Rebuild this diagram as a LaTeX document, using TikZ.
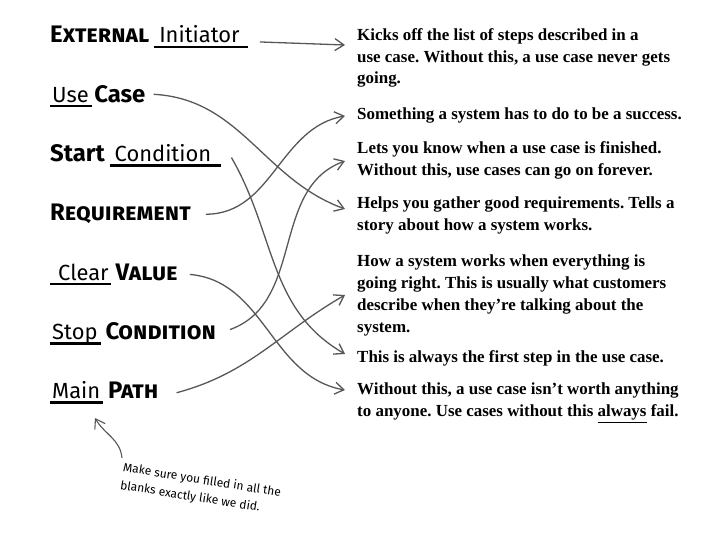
\documentclass[tikz,border=0pt]{standalone}
\usepackage{fontspec}
\setmainfont{Liberation Serif}
\newfontfamily\markfont{Fira Sans}
\newfontfamily\handfont{Fira Sans}
\usepackage{tikz}
\usetikzlibrary{positioning,arrows.meta}
\definecolor{pen}{HTML}{575757}
\frenchspacing

% a word written on a blank line
\newcommand{\fillin}[3]{\sbox0{\hspace*{#1}#2\hspace*{#3}}\rlap{\rule[-5bp]{\wd0}{2.4bp}}\usebox0}
\newcommand{\hw}{\handfont\fontsize{22}{24}\selectfont}
\newcommand{\mk}{\markfont\bfseries\fontsize{24}{26}\selectfont}

\begin{document}
\begin{tikzpicture}[x=1bp, y=-1bp,
  lab/.style={anchor=base west, inner sep=0pt},
  desc/.style={anchor=north west, align=left, inner sep=0pt, font=\bfseries\fontsize{17}{22}\selectfont},
  conn/.style={draw=pen, line width=1.3bp, -{Straight Barb[length=9bp,width=12bp]}}]
\useasboundingbox (0,0) rectangle (722,551);

% terms
\node[lab] (ext) at (50,43) {{\mk\scshape External}\ \ \fillin{5bp}{\hw Initiator}{8bp}};
\node[lab, below=59.3bp of ext.base west, anchor=base west] (uc) {\fillin{2bp}{\hw Use}{3bp}\ {\mk Case}};
\node[lab, below=59.3bp of uc.base west, anchor=base west] (start) {{\mk Start}\ \ \fillin{5bp}{\hw Condition}{10bp}};
\node[lab, below=59.3bp of start.base west, anchor=base west] (req) {\mk\scshape Requirement};
\node[lab, below=59.3bp of req.base west, anchor=base west] (clear) {\fillin{8bp}{\hw Clear}{2bp}\ \ {\mk\scshape Value}};
\node[lab, below=59.3bp of clear.base west, anchor=base west] (stop) {\fillin{2bp}{\hw Stop}{3bp}\ \ {\mk\scshape Condition}};
\node[lab, below=59.3bp of stop.base west, anchor=base west] (main) {\fillin{2bp}{\hw Main}{3bp}\ \ {\mk\scshape Path}};

% definitions
\node[desc] (kick) at (357,28) {Kicks off the list of steps described in a\\use case. Without this, a use case never gets\\going.};
\node[desc] (succ) at (357,108) {Something a system has to do to be a success.};
\node[desc] (lets) at (357,141) {Lets you know when a use case is finished.\\Without this, use cases can go on forever.};
\node[desc] (helps) at (357,197) {Helps you gather good requirements. Tells a\\story about how a system works.};
\node[desc] (how) at (357,255) {How a system works when everything is\\going right. This is usually what customers\\describe when they're talking about the\\system.};
\node[desc] (first) at (357,350) {This is always the first step in the use case.};
\node[desc] (worth) at (357,383) {Without this, a use case isn't worth anything\\to anyone. Use cases without this \underline{always} fail.};

% matching lines
\draw[conn] ([shift={(12bp,-5bp)}]ext.east) -- ([shift={(-12bp,-17bp)}]kick.north west);
\draw[conn] ([shift={(8bp,2bp)}]uc.east) to[out=-3,in=160] ([shift={(-12bp,-12bp)}]helps.north west);
\draw[conn] ([shift={(10bp,-2bp)}]start.east) to[out=-60,in=150] ([shift={(-12bp,-4bp)}]first.north west);
\draw[conn] ([xshift=15bp]req.east) to[out=0,in=190] ([xshift=-12bp]succ.west);
\draw[conn] ([xshift=12bp]clear.east) to[out=-5,in=170] ([shift={(-12bp,-7bp)}]worth.north west);
\draw[conn] ([shift={(14bp,4bp)}]stop.east) to[out=20,in=200] ([shift={(-12bp,-20bp)}]lets.north west);
\draw[conn] ([xshift=18bp]main.east) to[out=15,in=210] ([shift={(-12bp,-40bp)}]how.north west);

% note
\node[anchor=north west, rotate=-9, align=left, inner sep=0pt, font=\handfont\fontsize{12}{18}\selectfont] (note) at (124,462) {Make sure you filled in all the\\blanks exactly like we did.};
\draw[conn, line width=1.1bp] ([shift={(-2bp,4bp)}]note.north west) to[out=95,in=-60] ([shift={(45bp,-14bp)}]main.south west);
\end{tikzpicture}
\end{document}
